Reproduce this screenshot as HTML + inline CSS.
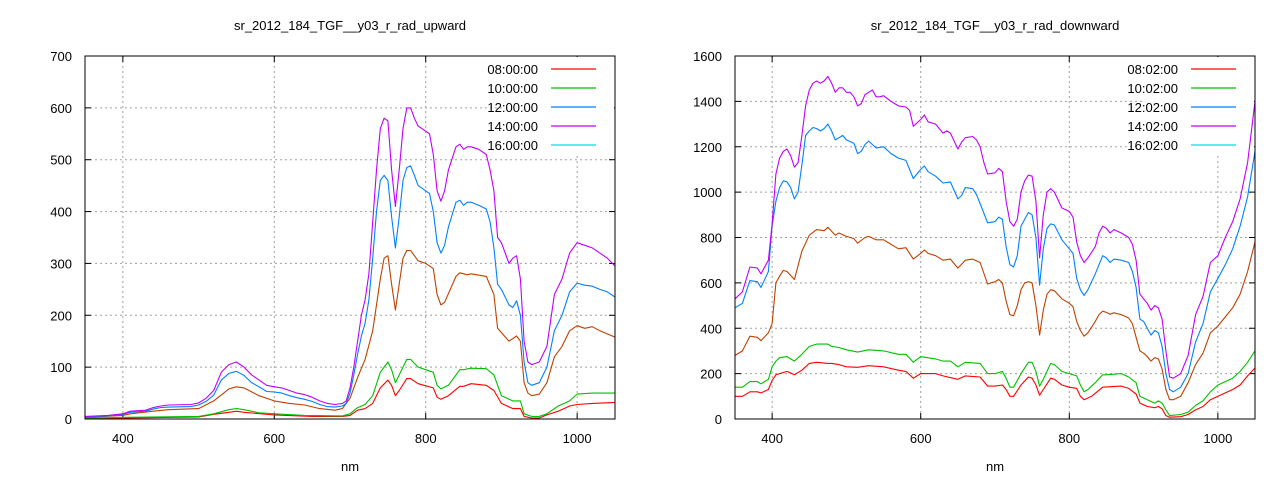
<!DOCTYPE html>
<html><head><meta charset="utf-8"><style>
html,body{margin:0;padding:0;background:#fff;}
svg{display:block;font-family:"Liberation Sans",sans-serif;}
</style></head><body>
<svg id="s" width="1280" height="480" xmlns="http://www.w3.org/2000/svg">
<rect width="1280" height="480" fill="#fff"/>
</svg>
<script>
const S=document.getElementById('s');
const NS='http://www.w3.org/2000/svg';
function el(t,a,txt){const e=document.createElementNS(NS,t);for(const k in a)e.setAttribute(k,a[k]);if(txt!==undefined)e.textContent=txt;S.appendChild(e);return e;}
function P(str){return str.trim().split(/\s+/).map(p=>p.split(':').map(Number));}
const COL={r:'#ff0000',g:'#00c000',b:'#0080ff',p:'#c000ff',o:'#c04000'};
function chart(o){
 const {L,R,T,B,ymax,ystep,title,legend,series}=o;
 const xs=v=>L+(v-350)/700*(R-L), ys=v=>B-v/ymax*(B-T);
 el('text',{x:(L+R)/2,y:30,'text-anchor':'middle','font-size':13},title);
 // grid
 for(const xv of [400,600,800,1000]){const x=xs(xv);
  el('line',{x1:x,y1:T,x2:x,y2:B,stroke:'#a0a0a0','stroke-dasharray':'2,3','stroke-width':1});
  el('text',{x:x,y:443,'text-anchor':'middle','font-size':13},xv);
  el('line',{x1:x,y1:B,x2:x,y2:B-6,stroke:'#000'});el('line',{x1:x,y1:T,x2:x,y2:T+6,stroke:'#000'});}
 for(let v=0;v<=ymax;v+=ystep){const y=ys(v);
  if(v>0&&v<ymax)el('line',{x1:L,y1:y,x2:R,y2:y,stroke:'#a0a0a0','stroke-dasharray':'2,3','stroke-width':1});
  el('text',{x:L-13,y:y+5,'text-anchor':'end','font-size':13},v);
  el('line',{x1:L,y1:y,x2:L+6,y2:y,stroke:'#000'});el('line',{x1:R,y1:y,x2:R-6,y2:y,stroke:'#000'});}
 // legend bg
 el('rect',{x:R-112,y:T+1,width:111,height:97,fill:'#fff'});
 el('text',{x:(L+R)/2,y:471,'text-anchor':'middle','font-size':13},'nm');
 for(const [c,d] of series){
  const pts=P(d).map(([x,y])=>xs(x).toFixed(1)+','+ys(y).toFixed(1)).join(' ');
  el('polyline',{points:pts,fill:'none',stroke:COL[c],'stroke-width':1.1,'stroke-linejoin':'round'});
 }
 const lc=['#ff0000','#00c000','#0080ff','#c000ff','#00e0e0'];
 legend.forEach((t,i)=>{const y=T+13+i*19;
  el('text',{x:R-77,y:y+5,'text-anchor':'end','font-size':13},t);
  el('line',{x1:R-64,y1:y,x2:R-19,y2:y,stroke:lc[i],'stroke-width':1.2});});
 el('rect',{x:L,y:T,width:R-L,height:B-T,fill:'none',stroke:'#000','stroke-width':1});
}
chart({L:85,R:615,T:56,B:419,ymax:700,ystep:100,title:'sr_2012_184_TGF__y03_r_rad_upward',
 legend:['08:00:00','10:00:00','12:00:00','14:00:00','16:00:00'],
 series:[
 ['r','350:1 400:2 500:4 520:9 540:13 550:15 560:13 600:8 650:5 690:5 700:7 710:17 720:20 730:30 740:60 750:75 755:65 760:45 765:55 775:78 780:78 790:68 810:60 815:42 820:38 830:45 845:63 850:63 860:68 880:65 890:55 900:30 915:20 925:20 930:5 940:2 950:2 960:8 975:15 990:25 1000:28 1020:30 1050:32'],
 ['g','350:2 400:3 500:5 520:10 540:18 550:20 560:18 580:12 600:10 640:7 690:6 700:10 710:22 720:28 730:45 740:90 750:110 755:95 760:70 765:85 775:115 780:115 790:100 800:95 810:90 815:65 820:58 830:65 845:95 850:95 860:98 880:97 890:85 900:45 915:35 925:35 930:10 940:5 950:5 960:10 975:25 990:35 1000:48 1020:50 1050:50'],
 ['o','350:3 400:7 410:10 440:15 460:18 500:20 520:35 540:58 550:62 560:60 580:45 600:35 620:30 640:27 660:20 680:17 690:20 700:40 710:80 720:115 730:170 740:270 745:310 750:315 755:260 760:210 765:260 770:310 775:325 780:325 790:305 800:300 810:290 815:240 820:220 825:225 840:275 845:282 850:280 855:278 860:280 880:275 890:240 895:175 910:150 920:160 925:150 930:70 935:50 940:45 950:48 960:70 970:120 980:140 990:170 1000:180 1010:175 1020:178 1030:170 1050:158'],
 ['b','350:4 380:6 400:9 410:13 430:15 440:19 450:22 460:23 490:24 500:27 510:34 520:46 530:75 540:88 550:92 560:84 570:70 580:62 590:53 600:52 610:50 620:45 630:41 640:38 650:34 660:28 670:24 680:23 690:25 695:30 700:50 705:85 710:125 715:160 720:185 725:230 730:310 735:400 740:460 745:470 750:460 755:390 760:330 765:390 770:460 775:485 780:488 785:470 790:450 800:440 805:435 810:400 815:340 820:320 825:335 830:370 840:418 845:422 850:412 855:418 860:418 870:412 880:405 885:380 890:330 895:260 900:250 910:220 915:215 920:228 925:200 930:110 935:70 940:65 950:70 960:100 970:170 980:200 990:245 1000:262 1010:258 1020:256 1030:250 1040:245 1050:235'],
 ['p','350:5 380:7 400:10 410:15 430:17 440:22 450:25 460:27 490:28 500:31 510:40 520:55 530:90 540:105 550:110 560:100 570:85 580:75 590:65 600:62 610:60 620:55 630:50 640:47 650:42 660:35 670:30 680:28 690:30 695:35 700:60 705:100 710:150 715:200 720:230 725:280 730:380 735:480 740:560 745:580 750:575 755:480 760:410 765:480 770:560 775:600 780:600 785:580 790:565 800:555 805:550 810:510 815:440 820:420 825:440 830:480 840:525 845:530 850:520 855:525 860:525 870:520 880:510 885:480 890:440 895:350 900:340 910:300 915:310 920:315 925:270 930:150 935:110 940:105 950:110 960:140 970:240 980:270 990:320 1000:340 1010:335 1020:330 1030:320 1040:310 1050:295']
 ]});
chart({L:735,R:1255,T:56,B:419,ymax:1600,ystep:200,title:'sr_2012_184_TGF__y03_r_rad_downward',
 legend:['08:02:00','10:02:00','12:02:00','14:02:00','16:02:00'],
 series:[
 ['r','350:100 360:100 370:120 380:120 385:115 395:130 400:170 405:195 410:200 420:210 430:195 440:215 450:245 460:250 475:245 480:245 490:240 500:230 515:228 530:235 550:230 570:215 580:210 590:180 600:200 620:200 630:190 650:175 660:190 680:185 690:145 700:145 710:150 715:130 720:100 725:100 735:150 745:185 750:180 755:150 760:105 765:130 775:180 780:175 790:150 800:140 810:135 815:100 820:85 830:100 845:140 870:145 880:135 890:110 895:70 905:55 915:50 920:55 925:45 930:15 935:8 950:10 960:20 970:40 980:55 990:85 1000:100 1020:130 1030:150 1040:190 1050:225'],
 ['g','350:140 360:140 370:165 380:165 385:155 395:175 400:230 405:255 410:270 420:275 430:255 440:285 450:320 460:330 475:330 480:320 490:315 500:305 515:295 530:305 550:300 570:285 580:285 590:250 600:275 620:265 630:255 640:255 650:230 660:250 680:245 690:200 700:200 710:210 715:180 720:140 725:140 735:200 745:250 750:250 755:210 760:145 765:175 775:245 780:240 790:210 800:200 810:190 815:150 820:120 825:130 835:160 845:195 850:195 870:200 880:185 890:160 895:100 905:85 915:70 920:80 925:70 930:40 935:15 950:20 960:30 970:60 980:80 990:120 1000:150 1020:180 1030:210 1040:250 1050:300'],
 ['o','350:280 360:300 370:365 380:360 385:345 395:380 400:420 405:600 410:630 415:655 420:650 430:615 440:740 450:810 460:835 470:830 475:845 485:810 490:820 500:805 510:795 515:775 525:800 530:805 540:790 550:790 560:770 570:750 580:755 590:705 600:730 605:745 610:730 620:720 630:700 640:705 650:665 660:700 670:705 680:690 690:595 700:605 705:615 710:600 715:520 720:460 725:455 730:500 735:570 740:600 745:605 750:600 755:500 760:370 765:480 770:550 775:570 780:565 790:530 800:510 805:495 810:430 815:390 820:365 825:380 835:430 840:460 845:475 850:470 855:462 860:468 870:460 880:445 885:420 890:360 895:300 900:290 905:275 910:255 915:270 920:265 925:220 930:130 935:85 940:85 950:100 960:160 970:240 980:290 990:380 1000:410 1010:450 1020:490 1030:550 1040:650 1050:780'],
 ['b','350:490 360:510 370:610 380:605 385:580 395:650 400:850 405:960 410:1020 415:1050 420:1045 425:1020 430:970 435:1000 440:1120 445:1250 450:1270 455:1285 460:1280 465:1270 470:1280 475:1300 480:1270 485:1230 490:1240 495:1250 500:1230 510:1215 515:1170 520:1180 525:1210 530:1225 540:1195 550:1200 560:1170 570:1150 580:1140 590:1060 600:1100 605:1115 610:1090 620:1070 630:1040 640:1045 650:970 655:985 660:1020 670:1015 675:990 680:950 690:865 700:870 705:890 710:880 715:760 720:680 725:670 730:720 735:850 740:880 745:910 750:900 755:800 760:590 765:750 770:840 775:860 780:855 790:790 800:750 805:730 810:620 815:570 820:545 825:570 835:640 840:680 845:720 850:710 855:690 860:705 870:700 880:690 885:650 890:580 895:440 900:430 905:400 910:370 915:390 920:380 925:320 930:200 935:130 940:120 950:140 960:200 970:340 980:420 990:560 1000:620 1010:680 1020:750 1030:850 1040:980 1050:1180'],
 ['p','350:530 360:560 370:670 380:665 385:640 395:700 400:860 405:1080 410:1150 415:1180 420:1190 425:1160 430:1110 435:1130 440:1250 445:1380 450:1450 455:1480 460:1490 465:1480 470:1490 475:1510 480:1480 485:1440 490:1460 495:1460 500:1440 505:1440 510:1420 515:1380 520:1390 525:1430 530:1440 535:1450 540:1420 545:1420 550:1425 560:1400 570:1380 580:1375 585:1360 590:1290 600:1320 605:1340 610:1310 620:1300 630:1260 635:1270 640:1260 650:1190 655:1220 660:1240 670:1245 675:1230 680:1200 685:1130 690:1080 700:1085 705:1105 710:1090 715:960 720:870 725:850 730:880 735:1000 740:1050 745:1075 750:1070 755:960 760:710 765:900 770:1000 775:1015 780:1000 790:930 800:915 805:890 810:780 815:720 820:690 825:710 835:760 840:820 845:850 850:840 855:820 860:835 870:820 880:800 885:770 890:700 895:550 900:530 905:510 910:480 915:500 920:490 925:440 930:300 935:185 940:180 950:200 960:280 970:460 980:540 990:690 1000:720 1010:800 1020:870 1030:970 1040:1130 1050:1400']
 ]});
</script>
</body></html>
